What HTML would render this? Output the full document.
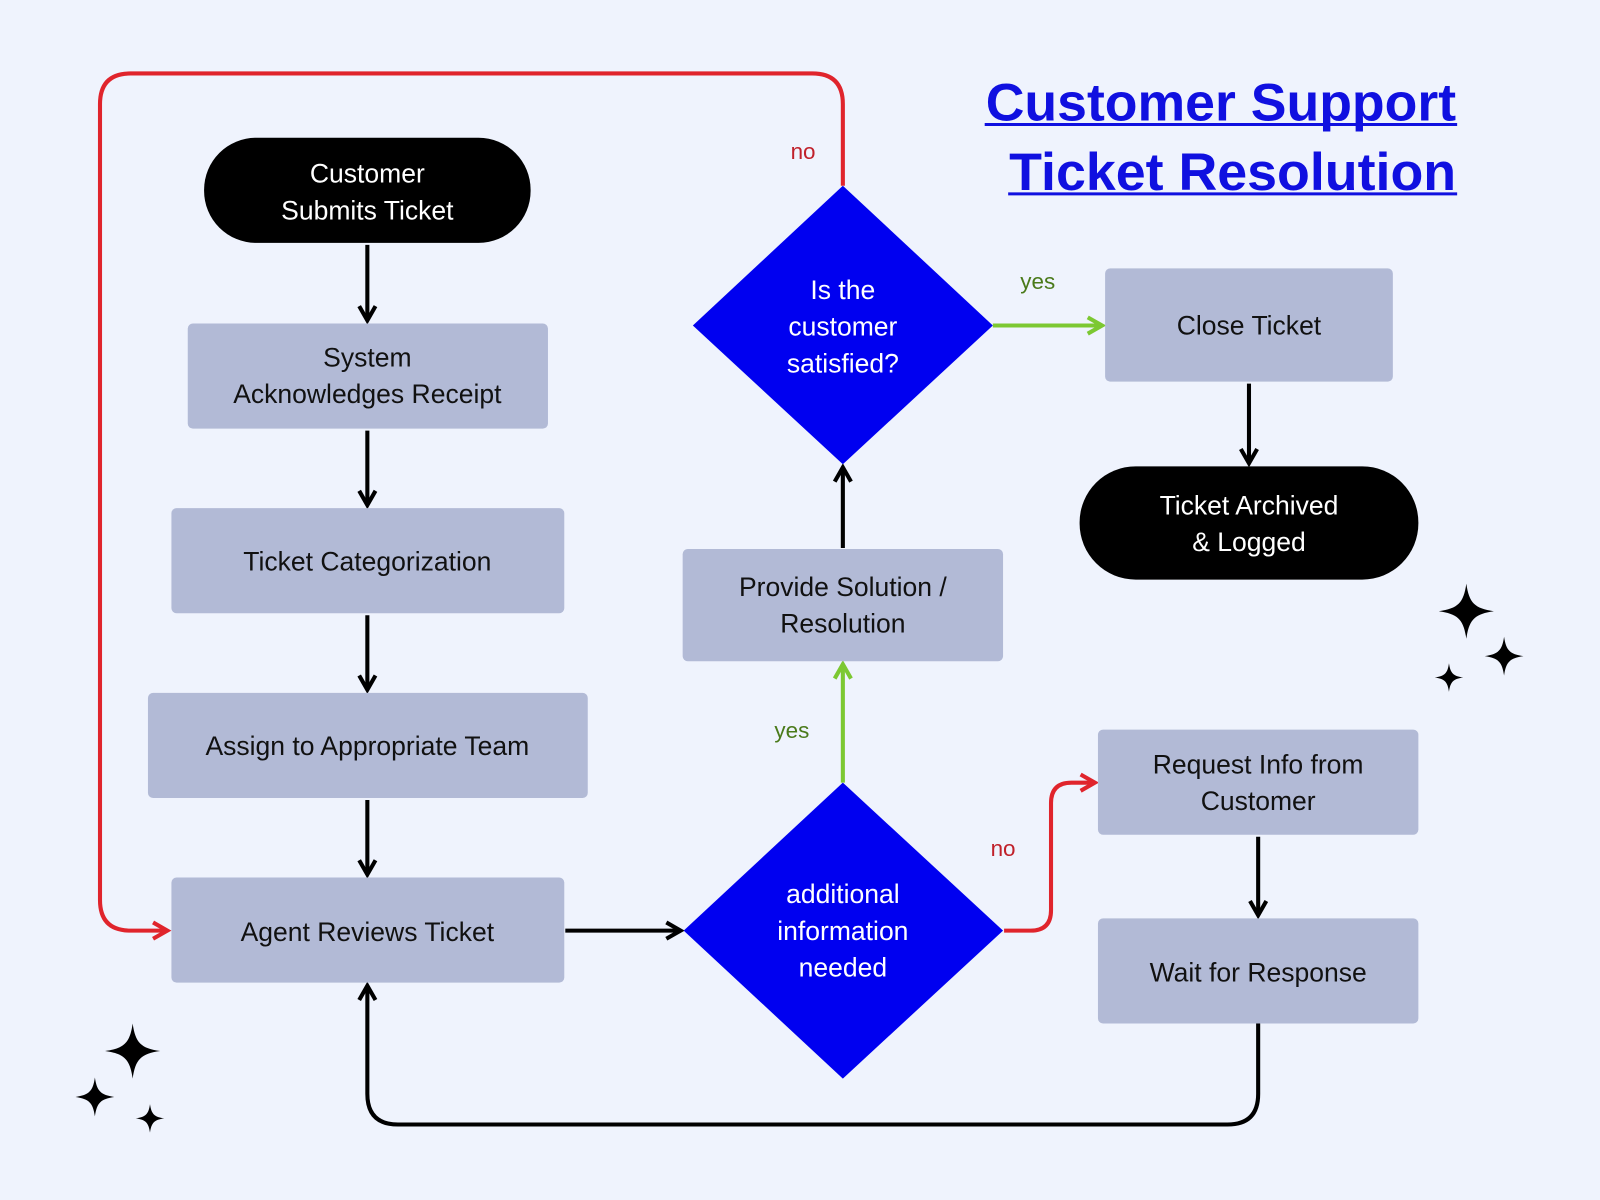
<!DOCTYPE html>
<html><head><meta charset="utf-8"><style>
html,body{margin:0;padding:0;background:#eff3fd;}
svg{display:block;}
text{font-family:"Liberation Sans",sans-serif;}
</style></head><body>
<svg width="1600" height="1200" viewBox="0 0 1568 1176" xmlns="http://www.w3.org/2000/svg">
<defs>
<marker id="ak" viewBox="0 0 10 10" refX="8" refY="5" markerWidth="5" markerHeight="5" orient="auto"><path d="M1,1 L8,5 L1,9" fill="none" stroke="#000" stroke-width="2"/></marker>
<marker id="ar" viewBox="0 0 10 10" refX="8" refY="5" markerWidth="5" markerHeight="5" orient="auto"><path d="M1,1 L8,5 L1,9" fill="none" stroke="#e0242c" stroke-width="2"/></marker>
<marker id="ag" viewBox="0 0 10 10" refX="8" refY="5" markerWidth="5" markerHeight="5" orient="auto"><path d="M1,1 L8,5 L1,9" fill="none" stroke="#7cc832" stroke-width="2"/></marker>
<path id="star" d="M0,-1 C0.1,-0.3 0.3,-0.1 1,0 C0.3,0.1 0.1,0.3 0,1 C-0.1,0.3 -0.3,0.1 -1,0 C-0.3,-0.1 -0.1,-0.3 0,-1Z"/>
</defs>
<rect width="1568" height="1176" fill="#eff3fd"/>
<path d="M826,182 V102 Q826,72 796,72 H128 Q98,72 98,102 V882 Q98,912 128,912 H164" fill="none" stroke="#e0242c" stroke-width="4" marker-end="url(#ar)"/>
<text x="787" y="156" font-size="22" fill="#c0202a" text-anchor="middle">no</text>
<path d="M1233,1003 V1072 Q1233,1102 1203,1102 H390 Q360,1102 360,1072 V966" fill="none" stroke="#000" stroke-width="4" marker-end="url(#ak)"/>
<g stroke="#000" stroke-width="4" fill="none" marker-end="url(#ak)">
<line x1="360" y1="240" x2="360" y2="314"/>
<line x1="360" y1="422" x2="360" y2="495"/>
<line x1="360" y1="603" x2="360" y2="676"/>
<line x1="360" y1="784" x2="360" y2="857"/>
<line x1="554" y1="912" x2="667" y2="912"/>
<line x1="826" y1="537" x2="826" y2="458"/>
<line x1="1224" y1="376" x2="1224" y2="454"/>
<line x1="1233" y1="820" x2="1233" y2="897"/>
</g>
<line x1="826" y1="767" x2="826" y2="651" stroke="#7cc832" stroke-width="4" marker-end="url(#ag)"/>
<line x1="973" y1="319" x2="1080" y2="319" stroke="#7cc832" stroke-width="4" marker-end="url(#ag)"/>
<path d="M984,912 H1010 Q1030,912 1030,892 V787 Q1030,767 1050,767 H1073" fill="none" stroke="#e0242c" stroke-width="4" marker-end="url(#ar)"/>
<text x="776" y="723" font-size="22" fill="#4a7a1a" text-anchor="middle">yes</text>
<text x="1017" y="283" font-size="22" fill="#4a7a1a" text-anchor="middle">yes</text>
<text x="983" y="839" font-size="22" fill="#c0202a" text-anchor="middle">no</text>
<rect x="200" y="135" width="320" height="103" rx="51" fill="#000"/>
<text x="360" y="179" font-size="26" fill="#fff" text-anchor="middle">Customer</text>
<text x="360" y="215" font-size="26" fill="#fff" text-anchor="middle">Submits Ticket</text>
<g fill="#b2bad6">
<rect x="184" y="317" width="353" height="103" rx="5"/>
<rect x="168" y="498" width="385" height="103" rx="5"/>
<rect x="145" y="679" width="431" height="103" rx="5"/>
<rect x="168" y="860" width="385" height="103" rx="5"/>
<rect x="669" y="538" width="314" height="110" rx="5"/>
<rect x="1083" y="263" width="282" height="111" rx="5"/>
<rect x="1076" y="715" width="314" height="103" rx="5"/>
<rect x="1076" y="900" width="314" height="103" rx="5"/>
</g>
<g font-size="26" fill="#111" text-anchor="middle">
<text x="360" y="359">System</text>
<text x="360" y="395">Acknowledges Receipt</text>
<text x="360" y="559">Ticket Categorization</text>
<text x="360" y="740">Assign to Appropriate Team</text>
<text x="360" y="922">Agent Reviews Ticket</text>
<text x="826" y="584">Provide Solution /</text>
<text x="826" y="620">Resolution</text>
<text x="1224" y="328">Close Ticket</text>
<text x="1233" y="758">Request Info from</text>
<text x="1233" y="794">Customer</text>
<text x="1233" y="962">Wait for Response</text>
</g>
<rect x="1058" y="457" width="332" height="111" rx="55" fill="#000"/>
<text x="1224" y="504" font-size="26" fill="#fff" text-anchor="middle">Ticket Archived</text>
<text x="1224" y="540" font-size="26" fill="#fff" text-anchor="middle">&amp; Logged</text>
<polygon points="826,182 973,319 826,455 679,319" fill="#0000f0"/>
<text x="826" y="293" font-size="26" fill="#fff" text-anchor="middle">Is the</text>
<text x="826" y="329" font-size="26" fill="#fff" text-anchor="middle">customer</text>
<text x="826" y="365" font-size="26" fill="#fff" text-anchor="middle">satisfied?</text>
<polygon points="826,767 983,912 826,1057 670,912" fill="#0000f0"/>
<text x="826" y="885" font-size="26" fill="#fff" text-anchor="middle">additional</text>
<text x="826" y="921" font-size="26" fill="#fff" text-anchor="middle">information</text>
<text x="826" y="957" font-size="26" fill="#fff" text-anchor="middle">needed</text>
<g font-size="52" font-weight="bold" fill="#1010e0">
<text x="966" y="118" textLength="461" lengthAdjust="spacingAndGlyphs">Customer Support</text>
<text x="989" y="186" textLength="438" lengthAdjust="spacingAndGlyphs">Ticket Resolution</text>
</g>
<line x1="965" y1="122" x2="1428" y2="122" stroke="#1010e0" stroke-width="3"/>
<line x1="988" y1="190" x2="1428" y2="190" stroke="#1010e0" stroke-width="3"/>
<g fill="#000">
<use href="#star" transform="translate(1437,599) scale(27)"/>
<use href="#star" transform="translate(1474,643) scale(19)"/>
<use href="#star" transform="translate(1420,664) scale(14)"/>
<use href="#star" transform="translate(130,1030) scale(27)"/>
<use href="#star" transform="translate(93,1075) scale(19)"/>
<use href="#star" transform="translate(147,1096) scale(14)"/>
</g>
</svg>
</body></html>
